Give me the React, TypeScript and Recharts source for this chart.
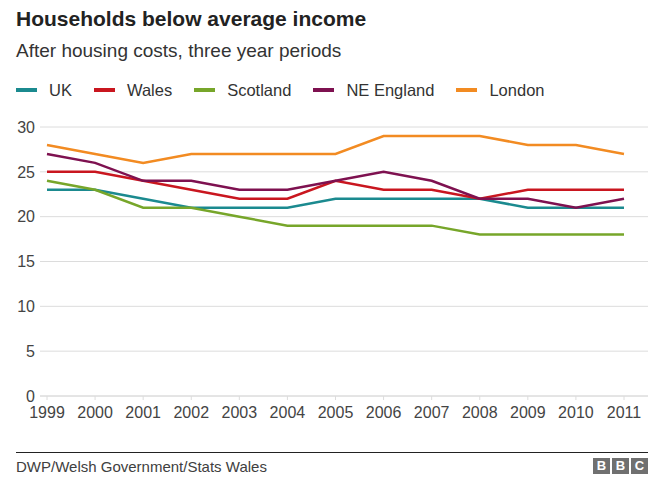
import { CartesianGrid, Line, LineChart, XAxis, YAxis } from "recharts";

const years = ["1999", "2000", "2001", "2002", "2003", "2004", "2005", "2006", "2007", "2008", "2009", "2010", "2011"];
const uk = [23, 23, 22, 21, 21, 21, 22, 22, 22, 22, 21, 21, 21];
const wales = [25, 25, 24, 23, 22, 22, 24, 23, 23, 22, 23, 23, 23];
const scotland = [24, 23, 21, 21, 20, 19, 19, 19, 19, 18, 18, 18, 18];
const neEngland = [27, 26, 24, 24, 23, 23, 24, 25, 24, 22, 22, 21, 22];
const london = [28, 27, 26, 27, 27, 27, 27, 29, 29, 29, 28, 28, 27];
const yTicks = [0, 5, 10, 15, 20, 25, 30];

const series = [
  { key: "uk", name: "UK", color: "#1b8a8f", values: uk },
  { key: "wales", name: "Wales", color: "#c9161f", values: wales },
  { key: "scotland", name: "Scotland", color: "#77a62a", values: scotland },
  { key: "ne", name: "NE England", color: "#7e1150", values: neEngland },
  { key: "london", name: "London", color: "#f28b22", values: london },
];

const data = years.map((year, i) => {
  const row: Record<string, string | number> = { year };
  series.forEach((s) => (row[s.key] = s.values[i]));
  return row;
});

const font = '"Liberation Sans", Arial, sans-serif';

export default function App() {
  return (
    <div style={{ position: "absolute", left: 0, top: 0, width: 660, height: 481, background: "#fff", fontFamily: font }}>
      <div style={{ position: "absolute", left: 16, top: 6, fontSize: 21, lineHeight: "26px", fontWeight: "bold", color: "#222" }}>
        Households below average income
      </div>
      <div style={{ position: "absolute", left: 16, top: 39, fontSize: 19, lineHeight: "24px", color: "#333" }}>
        After housing costs, three year periods
      </div>
      <div
        style={{
          position: "absolute",
          left: 16,
          top: 80,
          display: "flex",
          gap: 22,
          fontSize: 16.5,
          lineHeight: "20px",
          color: "#333",
        }}
      >
        {series.map((s) => (
          <div key={s.key} style={{ display: "flex", alignItems: "center" }}>
            <span style={{ width: 21, height: 4, background: s.color, marginRight: 12 }} />
            {s.name}
          </div>
        ))}
      </div>

      <div style={{ position: "absolute", left: 0, top: 0 }}>
        <LineChart width={660} height={481} data={data} margin={{ top: 127, right: 12, left: 0, bottom: 55 }}>
          <CartesianGrid vertical={false} stroke="#dcdcdc" />
          <XAxis
            dataKey="year"
            padding={{ left: 7, right: 24 }}
            height={30}
            axisLine={{ stroke: "#dcdcdc" }}
            tickLine={{ stroke: "#dcdcdc" }}
            tickSize={4}
            tickMargin={7}
            interval={0}
            tick={{ fontSize: 16, fill: "#444", fontFamily: font }}
          />
          <YAxis
            domain={[0, 30]}
            ticks={yTicks}
            width={40}
            axisLine={false}
            tickLine={false}
            tickSize={0}
            tickMargin={5}
            tick={{ fontSize: 16, fill: "#444", fontFamily: font }}
          />
          {series.map((s) => (
            <Line
              key={s.key}
              dataKey={s.key}
              name={s.name}
              type="linear"
              stroke={s.color}
              strokeWidth={2.5}
              dot={false}
              isAnimationActive={false}
            />
          ))}
        </LineChart>
      </div>

      <div style={{ position: "absolute", left: 16, top: 452, width: 632, height: 1, background: "#222" }} />
      <div style={{ position: "absolute", left: 16, top: 458, fontSize: 15, lineHeight: "18px", color: "#404040" }}>
        DWP/Welsh Government/Stats Wales
      </div>
      <div style={{ position: "absolute", left: 593, top: 458, display: "flex", gap: 2 }}>
        {["B", "B", "C"].map((c, i) => (
          <div
            key={i}
            style={{
              width: 17,
              height: 16,
              background: "#707070",
              color: "#fff",
              fontSize: 13,
              fontWeight: "bold",
              lineHeight: "16px",
              textAlign: "center",
            }}
          >
            {c}
          </div>
        ))}
      </div>
    </div>
  );
}
